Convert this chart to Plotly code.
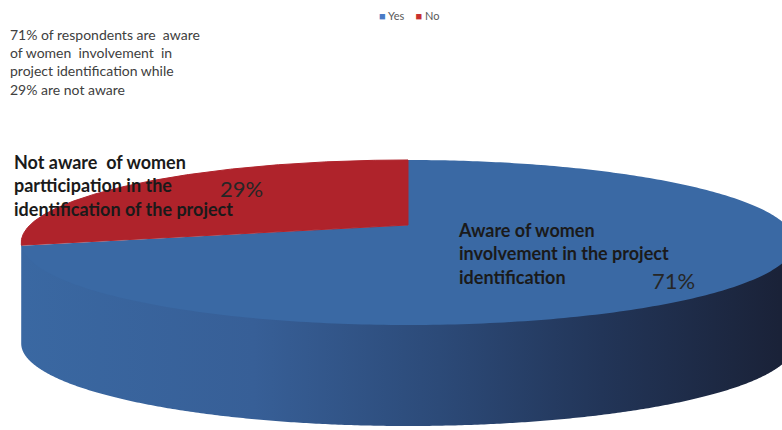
import numpy as np
import plotly.graph_objects as go

# ---- data ----
labels = ["Yes", "No"]
values = [71, 29]
slice_texts = [
    "Aware of women<br>involvement in the project<br>identification",
    "Not aware  of women<br>partticipation in the<br>identification of the project",
]
pct_texts = ["71%", "29%"]
note_text = ("71% of respondents are  aware<br>of women  involvement  in<br>"
             "project identification while<br>29% are not aware")

# ---- style ----
top_colors = ["#3a69a4", "#af232b"]
outline = [False, True]
legend_colors = ["#4a7bc6", "#c8302f"]
side_scale = [[0.0, "#3a68a2"], [0.3, "#375f97"], [0.54, "#2c4a78"],
              [0.75, "#223558"], [0.98, "#1a2238"], [1.0, "#19213a"]]
FONT = "Lato"

W, H = 782, 430
CX, CY = 408, 225          # projected pie centre
A, B, K = 378, 78.8, 0.212  # radius x, radius y, perspective
DEPTH = 101


def proj(theta_deg, drop=0.0):
    t = np.radians(theta_deg)
    X, Y = np.cos(t), np.sin(t)
    w = 1 + K * Y
    return CX + A * X / w, CY - B * Y / w + drop


fig = go.Figure()

# side wall (front part between silhouette points)
dense = np.linspace(90, 450, 3601)
sx, _ = proj(dense)
th_left = dense[np.argmin(sx)]
th_right = dense[np.argmax(sx)]
if th_right < th_left:
    th_right += 360
th = np.linspace(th_left, th_right, 400)
xt, yt = proj(th, -3)
xb, yb = proj(th[::-1], DEPTH)
fig.add_trace(go.Scatter(
    x=np.r_[xt, xb], y=np.r_[yt, yb], fill="toself", mode="none",
    fillgradient=dict(type="horizontal", colorscale=side_scale),
    hoverinfo="skip", showlegend=False))

# top face slices (clockwise from 12 o'clock)
total = sum(values)
start = 90.0
for lab, v, col, ol in zip(labels, values, top_colors, outline):
    end = start - 360.0 * v / total
    a = np.linspace(start, end, 300)
    ax_, ay_ = proj(a)
    fig.add_trace(go.Scatter(
        x=np.r_[CX, ax_, CX], y=np.r_[CY, ay_, CY], fill="toself",
        mode="lines" if ol else "none",
        line=dict(color=col, width=1), fillcolor=col, name=lab,
        hoverinfo="name", showlegend=False))
    start = end

# text
fig.add_annotation(x=8, y=62, text=note_text, showarrow=False, xanchor="left",
                   yanchor="middle", align="left",
                   font=dict(family=FONT, size=14, color="#404040"))
fig.add_annotation(x=12, y=185, text=slice_texts[1], showarrow=False, xanchor="left",
                   yanchor="middle", align="left",
                   font=dict(family=FONT, size=18, color="#1a1a1a", weight="bold"))
fig.add_annotation(x=241, y=188, text=pct_texts[1], showarrow=False,
                   font=dict(family=FONT, size=22, color="#262626"))
fig.add_annotation(x=456, y=253, text=slice_texts[0], showarrow=False, xanchor="left",
                   yanchor="middle", align="left",
                   font=dict(family=FONT, size=18, color="#1a1a1a", weight="bold"))
fig.add_annotation(x=673, y=280, text=pct_texts[0], showarrow=False,
                   font=dict(family=FONT, size=22, color="#262626"))

legend_html = "&nbsp;&nbsp;&nbsp;&nbsp;".join(
    f"<span style='color:{c}'>■</span> {lab}" for lab, c in zip(labels, legend_colors))
fig.add_annotation(x=377, y=15, text=legend_html, showarrow=False, xanchor="left",
                   yanchor="middle", font=dict(family=FONT, size=11, color="#595959"))

fig.update_layout(
    width=W, height=H, margin=dict(l=0, r=0, t=0, b=0),
    paper_bgcolor="white", plot_bgcolor="white", showlegend=False,
    xaxis=dict(range=[0, W], visible=False, fixedrange=True),
    yaxis=dict(range=[H, 0], visible=False, fixedrange=True),
)
fig.write_html("out.html", config={"displayModeBar": False},
               post_script="document.body.style.margin='0';")
